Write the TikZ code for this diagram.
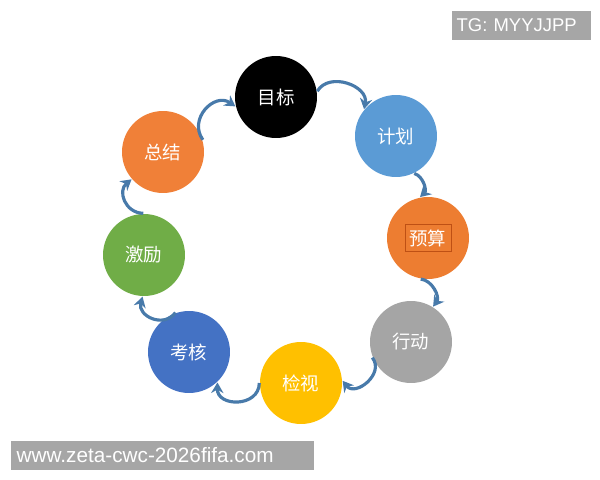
\documentclass[tikz,border=0pt]{standalone}
\usepackage{fontspec}
\setmainfont{Liberation Sans}
\newfontfamily\cjk{Noto Sans CJK SC}
\usetikzlibrary{arrows.meta}
\definecolor{plan}{RGB}{91, 155, 213}
\definecolor{budget}{RGB}{237, 125, 49}
\definecolor{budgetrim}{RGB}{190, 80, 20}
\definecolor{act}{RGB}{165, 165, 165}
\definecolor{check}{RGB}{255, 192, 0}
\definecolor{assess}{RGB}{68, 114, 196}
\definecolor{reward}{RGB}{112, 173, 71}
\definecolor{summary}{RGB}{240, 128, 56}
\definecolor{loopblue}{RGB}{72, 122, 170}
\definecolor{wmgray}{RGB}{166, 166, 166}
\tikzset{
  stage/.style={circle, minimum size=1.64cm, inner sep=0pt, text=white,
    font=\cjk\fontsize{10.5}{12}\selectfont},
  cyc/.style={draw=loopblue, line width=1.8pt, -{Stealth[length=6pt, width=7pt]}},
  wm/.style={fill=wmgray, text=white, anchor=north west, align=left,
    inner xsep=0.1cm, minimum height=0.58cm}
}

\begin{document}
\begin{tikzpicture}[x=0.02cm, y=-0.02cm, thick]
  \useasboundingbox (0, 0) rectangle (600, 480);

  \node[stage, fill=black] (mb) at (276, 97) {目标};
  \node[stage, fill=plan] (jh) at (396, 136) {计划};
  \node[stage, fill=budget] (ys) at (428, 238) {预算};
  \node[draw=budgetrim, thin, minimum width=0.92cm, minimum height=0.54cm] (ysbox) at (ys) {};
  \node[stage, fill=act] (xd) at (411, 342) {行动};
  \node[stage, fill=check] (jc) at (301, 383) {检视};
  \node[stage, fill=assess] (kh) at (189, 352) {考核};
  \node[stage, fill=reward] (jl) at (144, 255) {激励};
  \node[stage, fill=summary] (zj) at (163, 152) {总结};

  % the loop, clockwise
  \draw[cyc] (zj.17) to[bend left=80, looseness=1.4] (mb.193);
  \draw[cyc] (mb.8) to[bend left=80, looseness=1.2] (jh.140);
  \draw[cyc] (jh.-64) to[bend left=60] (ys.101);
  \draw[cyc] (ys.-100) to[bend left=60] (xd.58);
  \draw[cyc] (xd.202) to[bend left=90, looseness=1.4] (jc.3);
  \draw[cyc] (jc.180) to[bend left=90, looseness=1.5] (kh.-47);
  \draw[cyc] (kh.109) to[bend left=80, looseness=1.4] (jl.-92);
  \draw[cyc] (jl.91) to[bend left=70, looseness=1.3] (zj.221);

  \node[wm, text width=2.58cm, font=\fontsize{10.5}{12}\selectfont] (tg) at (451, 10) {TG: MYYJJPP};
  \node[wm, inner xsep=0.12cm, text width=5.82cm, font=\fontsize{11.8}{13}\selectfont] (web) at (10, 440) {www.zeta-cwc-2026fifa.com};
\end{tikzpicture}
\end{document}
